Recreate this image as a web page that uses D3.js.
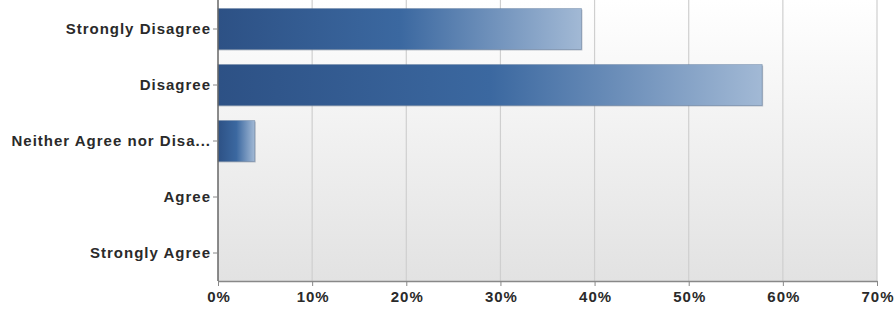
<!DOCTYPE html>
<html><head><meta charset="utf-8">
<script src="https://cdn.jsdelivr.net/npm/d3@7"></script>
<style>
body{margin:0;background:#fff;}
svg text{font-family:"Liberation Sans",Arial,sans-serif;font-weight:bold;fill:#2a2a2a;}
</style></head>
<body><svg id="c" width="895" height="318"></svg>
<script>
const categories = ["Strongly Disagree","Disagree","Neither Agree nor Disa...","Agree","Strongly Agree"];
const values = [0.386, 0.578, 0.039, 0, 0];
const xTicks = [0,0.1,0.2,0.3,0.4,0.5,0.6,0.7];

const svg = d3.select("#c");
const m = {left:218, right:877, top:1, bottom:281};
const x = d3.scaleLinear().domain([0,0.7]).range([m.left, m.right]);
const y = d3.scaleBand().domain(categories).range([m.top, m.bottom]).paddingInner(0.27).paddingOuter(0.135);

const defs = svg.append("defs");
const bg = defs.append("linearGradient").attr("id","bg").attr("x1",0).attr("y1",0).attr("x2",0).attr("y2",1);
bg.append("stop").attr("offset","0%").attr("stop-color","#ffffff");
bg.append("stop").attr("offset","100%").attr("stop-color","#e2e2e2");
const bar = defs.append("linearGradient").attr("id","bar").attr("x1",0).attr("y1",0).attr("x2",1).attr("y2",0);
bar.append("stop").attr("offset","0%").attr("stop-color","#2d5185");
bar.append("stop").attr("offset","50%").attr("stop-color","#3b68a0");
bar.append("stop").attr("offset","100%").attr("stop-color","#a2b9d5");

svg.append("rect").attr("x",m.left).attr("y",0).attr("width",m.right-m.left).attr("height",m.bottom)
  .attr("fill","url(#bg)");

// gridlines
svg.append("g").selectAll("line").data(xTicks.slice(1)).join("line")
  .attr("x1",d=>x(d)).attr("x2",d=>x(d)).attr("y1",0).attr("y2",m.bottom)
  .attr("stroke","#cfcfcf").attr("stroke-width",1.2);

// bars
const data = values.map((v,i)=>({v,c:categories[i]})).filter(d=>d.v>0);
const g = svg.append("g");
g.selectAll("rect.shadow").data(data).join("rect")
  .attr("x",x(0)).attr("y",d=>y(d.c)+1).attr("width",d=>x(d.v)-x(0)+1).attr("height",y.bandwidth())
  .attr("fill","#8d98a8").attr("opacity",0.6);
g.selectAll("rect.bar").data(data).join("rect")
  .attr("x",x(0)).attr("y",d=>y(d.c)).attr("width",d=>x(d.v)-x(0)).attr("height",y.bandwidth())
  .attr("fill","url(#bar)").attr("stroke","#5a7598").attr("stroke-opacity",0.5).attr("stroke-width",0.8);

// x axis
const xa = svg.append("g").attr("transform",`translate(0,${m.bottom})`)
  .call(d3.axisBottom(x).tickValues(xTicks).tickFormat(d3.format(".0%")).tickSize(5).tickSizeOuter(0));
xa.select(".domain").attr("stroke","#888").attr("stroke-width",1.5);
xa.selectAll(".tick line").attr("stroke","#888");
xa.selectAll("text").attr("font-size",15).attr("dy","0.85em").attr("fill","#2a2a2a")
  .style("letter-spacing","1px").attr("dx","0.5px");

// y axis
const ya = svg.append("g").attr("transform",`translate(${m.left},0)`)
  .call(d3.axisLeft(y).tickSize(5).tickSizeOuter(0).tickPadding(2));
ya.select(".domain").attr("stroke","#666").attr("stroke-width",1.5).attr("d",`M0,0V${m.bottom}`);
ya.selectAll(".tick line").attr("stroke","#888");
ya.selectAll("text").attr("font-size",15).attr("fill","#2a2a2a").style("letter-spacing","1px");
</script></body></html>
